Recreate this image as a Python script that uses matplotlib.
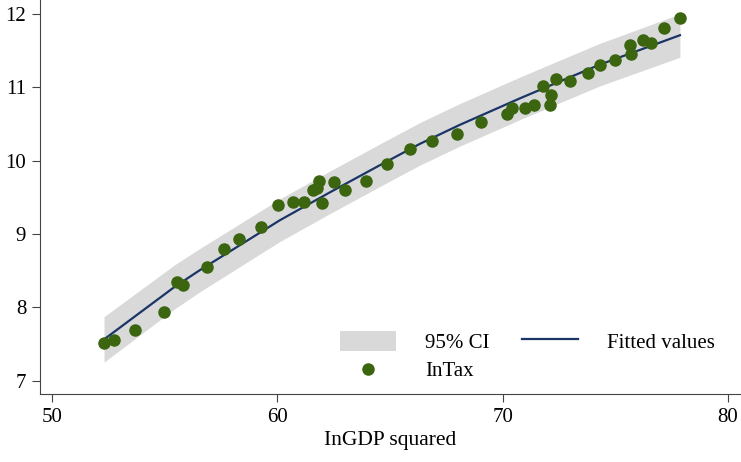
import numpy as np
import matplotlib
matplotlib.use('Agg')
import matplotlib.pyplot as plt

# scatter: lnGDP squared vs lnTax
gdp_sq = [52.29, 52.75, 53.70, 54.96, 55.56, 55.81, 56.87, 57.65, 58.29, 59.29,
          60.03, 60.70, 61.20, 61.60, 61.75, 61.86, 61.98, 62.51, 63.00, 63.93,
          64.87, 65.89, 66.85, 67.99, 69.04, 70.18, 70.43, 71.00, 71.38, 71.79,
          72.09, 72.13, 72.35, 72.98, 73.77, 74.33, 74.97, 75.64, 75.71, 76.23,
          76.60, 77.17, 77.86]
ln_tax = [7.51, 7.56, 7.69, 7.94, 8.35, 8.31, 8.55, 8.80, 8.93, 9.10,
          9.39, 9.44, 9.44, 9.60, 9.63, 9.72, 9.43, 9.71, 9.60, 9.72,
          9.96, 10.16, 10.27, 10.37, 10.53, 10.64, 10.72, 10.72, 10.76, 11.02,
          10.76, 10.89, 11.11, 11.09, 11.19, 11.30, 11.37, 11.58, 11.46, 11.64,
          11.60, 11.81, 11.94]

# fitted values and 95% CI
fit_x = [52.31, 55.46, 56.57, 60.12, 62.34, 64.56, 66.33, 68.11, 70.77, 72.54, 74.32, 77.87]
fit_y = [7.565, 8.285, 8.51, 9.19, 9.57, 9.94, 10.23, 10.49, 10.85, 11.08, 11.31, 11.71]
ci_lo = [7.255, 7.985, 8.215, 8.90, 9.28, 9.65, 9.94, 10.20, 10.56, 10.79, 11.02, 11.41]
ci_hi = [7.875, 8.585, 8.805, 9.48, 9.86, 10.23, 10.52, 10.78, 11.14, 11.37, 11.60, 12.00]

plt.rcParams['font.family'] = ['Liberation Serif', 'DejaVu Serif']

fig = plt.figure(figsize=(7.41, 4.62), dpi=100)
ax = fig.add_axes([0.054, 0.147, 0.946, 0.853])

ci = ax.fill_between(fit_x, ci_lo, ci_hi, color='#d9d9d9', lw=0, label='95% CI')
line, = ax.plot(fit_x, fit_y, color='#1a3566', lw=1.6, label='Fitted values')
pts = ax.scatter(gdp_sq, ln_tax, s=64, color='#3b650f', zorder=3, label='InTax')

ax.set_xlim(49.47, 80.58)
ax.set_ylim(6.82, 12.19)
ax.set_xticks([50, 60, 70, 80])
ax.set_yticks([7, 8, 9, 10, 11, 12])
ax.set_xlabel('InGDP squared', fontsize=15.5, labelpad=3)

for s in ['top', 'right']:
    ax.spines[s].set_visible(False)
for s in ['left', 'bottom']:
    ax.spines[s].set_color('#444444')
ax.tick_params(direction='out', length=6, width=0.8, color='#444444',
               labelsize=15, pad=4)

ax.legend([ci, pts, line], ['95% CI', 'InTax', 'Fitted values'], ncol=2,
          frameon=False, fontsize=15, handlelength=2.7, handleheight=1.1,
          columnspacing=1.55, handletextpad=1.4, labelspacing=0.3,
          loc='lower left', bbox_to_anchor=(0.401, -0.015))

fig.savefig('out.png', dpi=100)
